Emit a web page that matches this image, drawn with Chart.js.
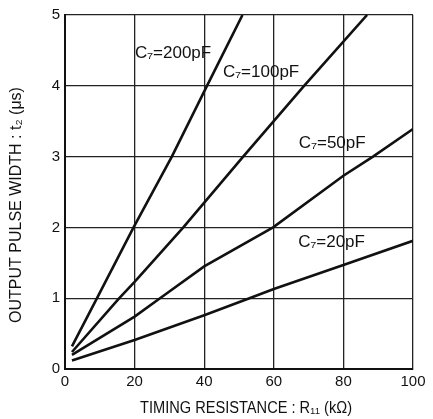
<!DOCTYPE html>
<html><head><meta charset="utf-8">
<script src="https://cdn.jsdelivr.net/npm/chart.js@4/dist/chart.umd.min.js"></script>
<style>html,body{margin:0;padding:0;background:#fff}#wrap{width:433px;height:419px}</style>
</head><body><div id="wrap"><canvas id="c" width="433" height="419"></canvas></div>
<script>
const xTicks = [0, 20, 40, 60, 80, 100];
const yTicks = [0, 1, 2, 3, 4, 5];
const xTitle = 'TIMING RESISTANCE : R\u2081\u2081 (k\u03A9)';
const yTitle = 'OUTPUT PULSE WIDTH : t\u2082 (\u03BCs)';
const seriesNames = ['C\u2087=200pF', 'C\u2087=100pF', 'C\u2087=50pF', 'C\u2087=20pF'];
const r200 = [2, 9.2, 19.7, 30.7, 40.8, 51];
const t200 = [0.32, 1, 2, 3, 4, 5];
const r100 = [2, 15.6, 20, 34, 51.2, 68.7, 86.8];
const t100 = [0.24, 1, 1.23, 2, 3, 4, 5];
const r50 = [2, 20, 27.3, 40, 59.8, 80, 88.5, 100];
const t50 = [0.2, 0.74, 1, 1.45, 2, 2.73, 3, 3.39];
const r20 = [2, 20, 40, 53, 60, 80, 100];
const t20 = [0.12, 0.41, 0.76, 1, 1.13, 1.47, 1.81];
// label anchors (data coordinates: left edge x, vertical centre y)
const labelX = [20.1, 45.4, 67.2, 67];
const labelY = [4.46, 4.19, 3.19, 1.79];

const rs = [r200, r100, r50, r20];
const ts = [t200, t100, t50, t20];
const datasets = rs.map((r, i) => ({
  label: seriesNames[i],
  data: r.map((x, j) => ({x: x, y: ts[i][j]})),
  borderColor: '#111', borderWidth: 2.6, pointRadius: 0, tension: 0, fill: false
}));

const FONT = '"Liberation Sans", Arial, sans-serif';
function condensedText(ctx, text, x, y, maxW) {
  const w = ctx.measureText(text).width;
  const k = Math.min(1, maxW / w);
  ctx.save();
  ctx.translate(x, y);
  ctx.scale(k, 1);
  ctx.fillText(text, 0, 0);
  ctx.restore();
}
const labelPlugin = {
  id: 'curveLabels',
  afterDatasetsDraw(chart) {
    const ctx = chart.ctx, xs = chart.scales.x, ys = chart.scales.y, a = chart.chartArea;
    ctx.save();
    ctx.fillStyle = '#111';
    ctx.font = '17px ' + FONT;
    ctx.textBaseline = 'middle';
    ctx.textAlign = 'left';
    seriesNames.forEach((n, i) => {
      condensedText(ctx, n, xs.getPixelForValue(labelX[i]), ys.getPixelForValue(labelY[i]), i < 2 ? 78 : 68);
    });
    // axis titles
    ctx.font = '16px ' + FONT;
    ctx.textAlign = 'center';
    condensedText(ctx, xTitle, (a.left + a.right) / 2 + 7, 409, 212);
    ctx.save();
    ctx.translate(17, (a.top + a.bottom) / 2 + 13);
    ctx.rotate(-Math.PI / 2);
    condensedText(ctx, yTitle, 0, 0, 254);
    ctx.restore();
    ctx.restore();
  }
};

new Chart(document.getElementById('c'), {
  type: 'line',
  data: {datasets},
  options: {
    responsive: false, animation: false,
    layout: {padding: {top: 15, right: 20, left: 0, bottom: 0}},
    plugins: {legend: {display: false}, tooltip: {enabled: false}},
    scales: {
      x: {
        type: 'linear', min: 0, max: 100,
        afterBuildTicks(s) { s.ticks = xTicks.map(v => ({value: v})); },
        afterFit(s) { s.height = 50; },
        grid: {color: '#222', lineWidth: 1.3, drawTicks: false},
        border: {color: '#111', width: 2},
        ticks: {color: '#111', font: {size: 15, family: FONT}, padding: 4, maxRotation: 0},
        title: {display: false}
      },
      y: {
        type: 'linear', min: 0, max: 5,
        afterBuildTicks(s) { s.ticks = yTicks.map(v => ({value: v})); },
        afterFit(s) { s.width = 65; },
        grid: {color: '#222', lineWidth: 1.3, drawTicks: false},
        border: {color: '#111', width: 2},
        ticks: {color: '#111', font: {size: 15, family: FONT}, padding: 5},
        title: {display: false}
      }
    }
  },
  plugins: [labelPlugin]
});
</script></body></html>
